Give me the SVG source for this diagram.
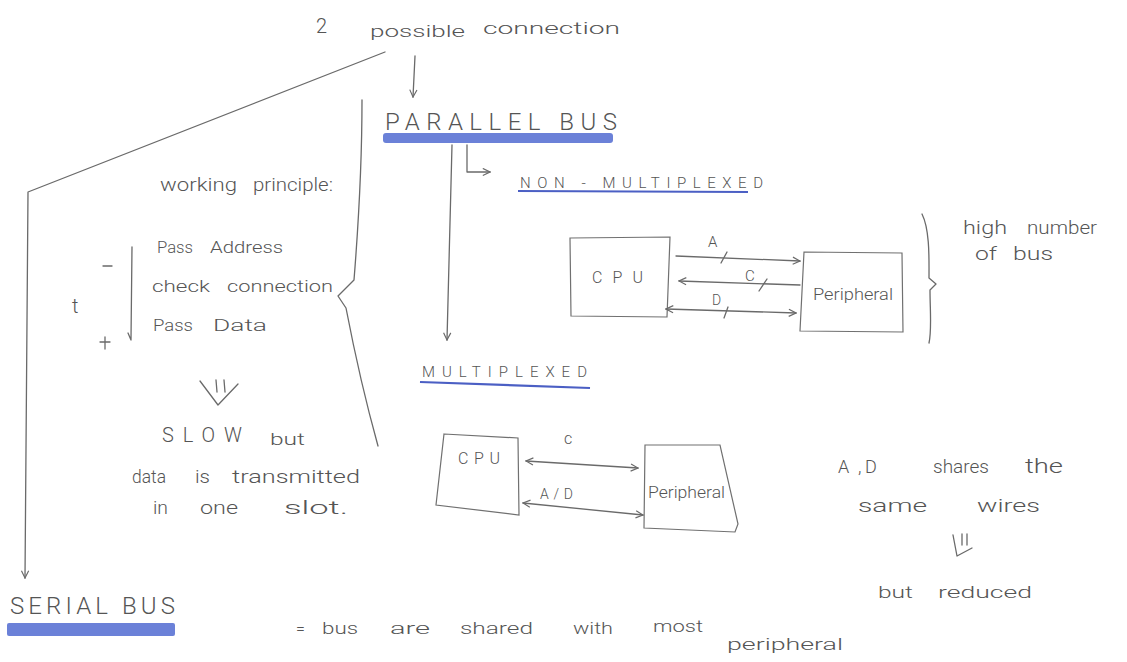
<svg xmlns="http://www.w3.org/2000/svg" width="1127" height="662" viewBox="0 0 1127 662">
  <defs>
    <style>
      .ink { fill: none; stroke: #6a6a6a; stroke-width: 1.3; stroke-linecap: round; stroke-linejoin: round; }
      .box { fill: none; stroke: #707070; stroke-width: 1.2; }
      .hl { fill: #5b73d4; opacity: 0.9; }
      .ul { stroke: #4b5fc4; stroke-width: 2.2; fill: none; }
      text { font-family: Roboto, "Liberation Sans", sans-serif; font-weight: 300; fill: #555; }
      .t14 { font-size: 14px; }
      .t15 { font-size: 15px; }
      .t16 { font-size: 16px; }
      .t18 { font-size: 18px; }
      .t20 { font-size: 20px; }
      .cap { font-size: 24px; }
      .cap2 { font-size: 15px; }
    </style>
    <marker id="head" viewBox="0 0 10 10" refX="9" refY="5" markerWidth="9" markerHeight="9" orient="auto-start-reverse" markerUnits="userSpaceOnUse">
      <path d="M1,1 L9,5 L1,9" fill="none" stroke="#6a6a6a" stroke-width="1.3"/>
    </marker>
  </defs>

  <rect width="1127" height="662" fill="#ffffff"/>

  <!-- heading -->
  <g id="title">
    <text class="t20" x="316" y="33">2</text>
    <text class="t16" x="370" y="37" textLength="95" lengthAdjust="spacingAndGlyphs">possible</text>
    <text class="t16" x="483" y="34" textLength="137" lengthAdjust="spacingAndGlyphs">connection</text>
  </g>

  <!-- parallel bus branch -->
  <g id="parallel-bus">
    <rect class="hl" x="383" y="133" width="230" height="10" rx="3"/>
    <text class="cap" x="385" y="130" textLength="232" lengthAdjust="spacing">PARALLEL BUS</text>
  </g>

  <g id="non-multiplexed">
    <text class="cap2" x="520" y="188" textLength="243" lengthAdjust="spacing">NON - MULTIPLEXED</text>
    <path class="ul" d="M518 191 L748 192"/>
  </g>

  <g id="nm-cpu">
    <path class="box" d="M570 238 L670 237 L667 317 L571 316 Z"/>
    <text class="t16" x="592" y="283" textLength="51" lengthAdjust="spacing">CPU</text>
  </g>

  <g id="nm-peripheral">
    <path class="box" d="M804 252 L902 253 L903 332 L800 331 Z"/>
    <text class="t16" x="813" y="300" textLength="80" lengthAdjust="spacingAndGlyphs">Peripheral</text>
  </g>

  <g id="nm-note">
    <path class="ink" d="M922 214 C930 230 929 260 929 278 L936 284 L930 290 C930 310 932 330 929 343"/>
    <text class="t18" x="963" y="234" textLength="44" lengthAdjust="spacingAndGlyphs">high</text>
    <text class="t18" x="1027" y="234" textLength="70" lengthAdjust="spacingAndGlyphs">number</text>
    <text class="t18" x="975" y="260" textLength="22" lengthAdjust="spacingAndGlyphs">of</text>
    <text class="t18" x="1013" y="260" textLength="40" lengthAdjust="spacingAndGlyphs">bus</text>
  </g>

  <g id="multiplexed">
    <text class="cap2" x="422" y="377" textLength="165" lengthAdjust="spacing">MULTIPLEXED</text>
    <path class="ul" d="M420 382 L590 388"/>
  </g>

  <g id="m-cpu">
    <path class="box" d="M444 434 L518 438 L519 515 L436 505 Z"/>
    <text class="t16" x="458" y="464" textLength="42" lengthAdjust="spacing">CPU</text>
  </g>

  <g id="m-peripheral">
    <path class="box" d="M645 445 L720 445 L738 524 L735 532 L644 528 Z"/>
    <text class="t16" x="648" y="498" textLength="77" lengthAdjust="spacingAndGlyphs">Peripheral</text>
  </g>

  <!-- left column notes -->
  <g id="working-principle">
    <text class="t18" x="160" y="191" textLength="77" lengthAdjust="spacingAndGlyphs">working</text>
    <text class="t18" x="253" y="191" textLength="80" lengthAdjust="spacingAndGlyphs">principle:</text>
    <text class="t16" x="157" y="253" textLength="36" lengthAdjust="spacingAndGlyphs">Pass</text>
    <text class="t16" x="210" y="253" textLength="73" lengthAdjust="spacingAndGlyphs">Address</text>
    <text class="t16" x="152" y="292" textLength="58" lengthAdjust="spacingAndGlyphs">check</text>
    <text class="t16" x="227" y="292" textLength="106" lengthAdjust="spacingAndGlyphs">connection</text>
    <text class="t16" x="153" y="331" textLength="40" lengthAdjust="spacingAndGlyphs">Pass</text>
    <text class="t16" x="213" y="331" textLength="54" lengthAdjust="spacingAndGlyphs">Data</text>
    <text class="t20" x="72" y="313">t</text>
    <path class="ink" d="M103 266 L112 266"/>
    <path class="ink" d="M105 337 L105 349 M100 342 L110 342"/>
    <path class="ink" d="M132 247 L131 340 L128 333"/>
    <path class="ink" d="M200 381 L218 405 L238 384 M216 380 L217 392 M224 380 L225 392"/>
    <text class="t20" x="162" y="442" textLength="80" lengthAdjust="spacing">SLOW</text>
    <text class="t16" x="270" y="445" textLength="35" lengthAdjust="spacingAndGlyphs">but</text>
    <text class="t18" x="132" y="483" textLength="34" lengthAdjust="spacingAndGlyphs">data</text>
    <text class="t18" x="195" y="483" textLength="15" lengthAdjust="spacingAndGlyphs">is</text>
    <text class="t18" x="232" y="483" textLength="128" lengthAdjust="spacingAndGlyphs">transmitted</text>
    <text class="t18" x="153" y="514" textLength="15" lengthAdjust="spacingAndGlyphs">in</text>
    <text class="t18" x="200" y="514" textLength="38" lengthAdjust="spacingAndGlyphs">one</text>
    <text class="t18" x="284" y="514" textLength="64" lengthAdjust="spacingAndGlyphs">slot.</text>
  </g>

  <g id="shares-note">
    <text class="t18" x="838" y="473">A</text>
    <text class="t18" x="858" y="473">,</text>
    <text class="t18" x="865" y="473">D</text>
    <text class="t18" x="933" y="473" textLength="56" lengthAdjust="spacingAndGlyphs">shares</text>
    <text class="t20" x="1025" y="473" textLength="38" lengthAdjust="spacingAndGlyphs">the</text>
    <text class="t18" x="858" y="512" textLength="69" lengthAdjust="spacingAndGlyphs">same</text>
    <text class="t18" x="977" y="512" textLength="63" lengthAdjust="spacingAndGlyphs">wires</text>
    <path class="ink" d="M953 535 L957 556 L972 548 M962 534 L962 545 M967 534 L967 545"/>
    <text class="t16" x="878" y="598" textLength="35" lengthAdjust="spacingAndGlyphs">but</text>
    <text class="t16" x="938" y="598" textLength="94" lengthAdjust="spacingAndGlyphs">reduced</text>
  </g>

  <g id="serial-bus">
    <rect class="hl" x="7" y="623" width="168" height="13" rx="2"/>
    <text class="cap" x="10" y="614" textLength="165" lengthAdjust="spacing">SERIAL BUS</text>
    <text class="t16" x="296" y="634">=</text>
    <text class="t16" x="322" y="634" textLength="36" lengthAdjust="spacingAndGlyphs">bus</text>
    <text class="t16" x="390" y="634" textLength="40" lengthAdjust="spacingAndGlyphs">are</text>
    <text class="t16" x="460" y="634" textLength="73" lengthAdjust="spacingAndGlyphs">shared</text>
    <text class="t16" x="573" y="634" textLength="40" lengthAdjust="spacingAndGlyphs">with</text>
    <text class="t16" x="653" y="632" textLength="50" lengthAdjust="spacingAndGlyphs">most</text>
    <text class="t16" x="727" y="650" textLength="116" lengthAdjust="spacingAndGlyphs">peripheral</text>
  </g>

  <!-- connectors -->
  <g id="connectors">
    <!-- split from heading -->
    <path class="ink" d="M385 52 L28 192 L25 578" marker-end="url(#head)"/>
    <path class="ink" d="M415 56 L413 97" marker-end="url(#head)"/>
    <!-- parallel bus sub-branches -->
    <path class="ink" d="M452 145 L447 340" marker-end="url(#head)"/>
    <path class="ink" d="M467 145 L467 172 L490 172" marker-end="url(#head)"/>
    <!-- brace grouping the parallel section -->
    <path class="ink" d="M362 100 C362 160 358 230 354 280 L338 296 L346 308 C356 360 368 410 378 446"/>
    <!-- non-multiplexed wires -->
    <path class="ink" d="M676 256 L800 261" marker-end="url(#head)"/>
    <path class="ink" d="M721 263 L727 252"/>
    <text class="t15" x="708" y="247">A</text>
    <path class="ink" d="M800 285 L679 281" marker-end="url(#head)"/>
    <path class="ink" d="M759 291 L767 279"/>
    <text class="t15" x="745" y="281">C</text>
    <path class="ink" d="M666 309 L796 313" marker-start="url(#head)" marker-end="url(#head)"/>
    <path class="ink" d="M724 318 L728 307"/>
    <text class="t14" x="712" y="305">D</text>
    <!-- multiplexed wires -->
    <path class="ink" d="M526 461 L638 468" marker-start="url(#head)" marker-end="url(#head)"/>
    <text class="t16" x="564" y="444">c</text>
    <path class="ink" d="M523 503 L643 515" marker-start="url(#head)" marker-end="url(#head)"/>
    <text class="t14" x="540" y="499" textLength="33" lengthAdjust="spacing">A/D</text>
  </g>
</svg>
